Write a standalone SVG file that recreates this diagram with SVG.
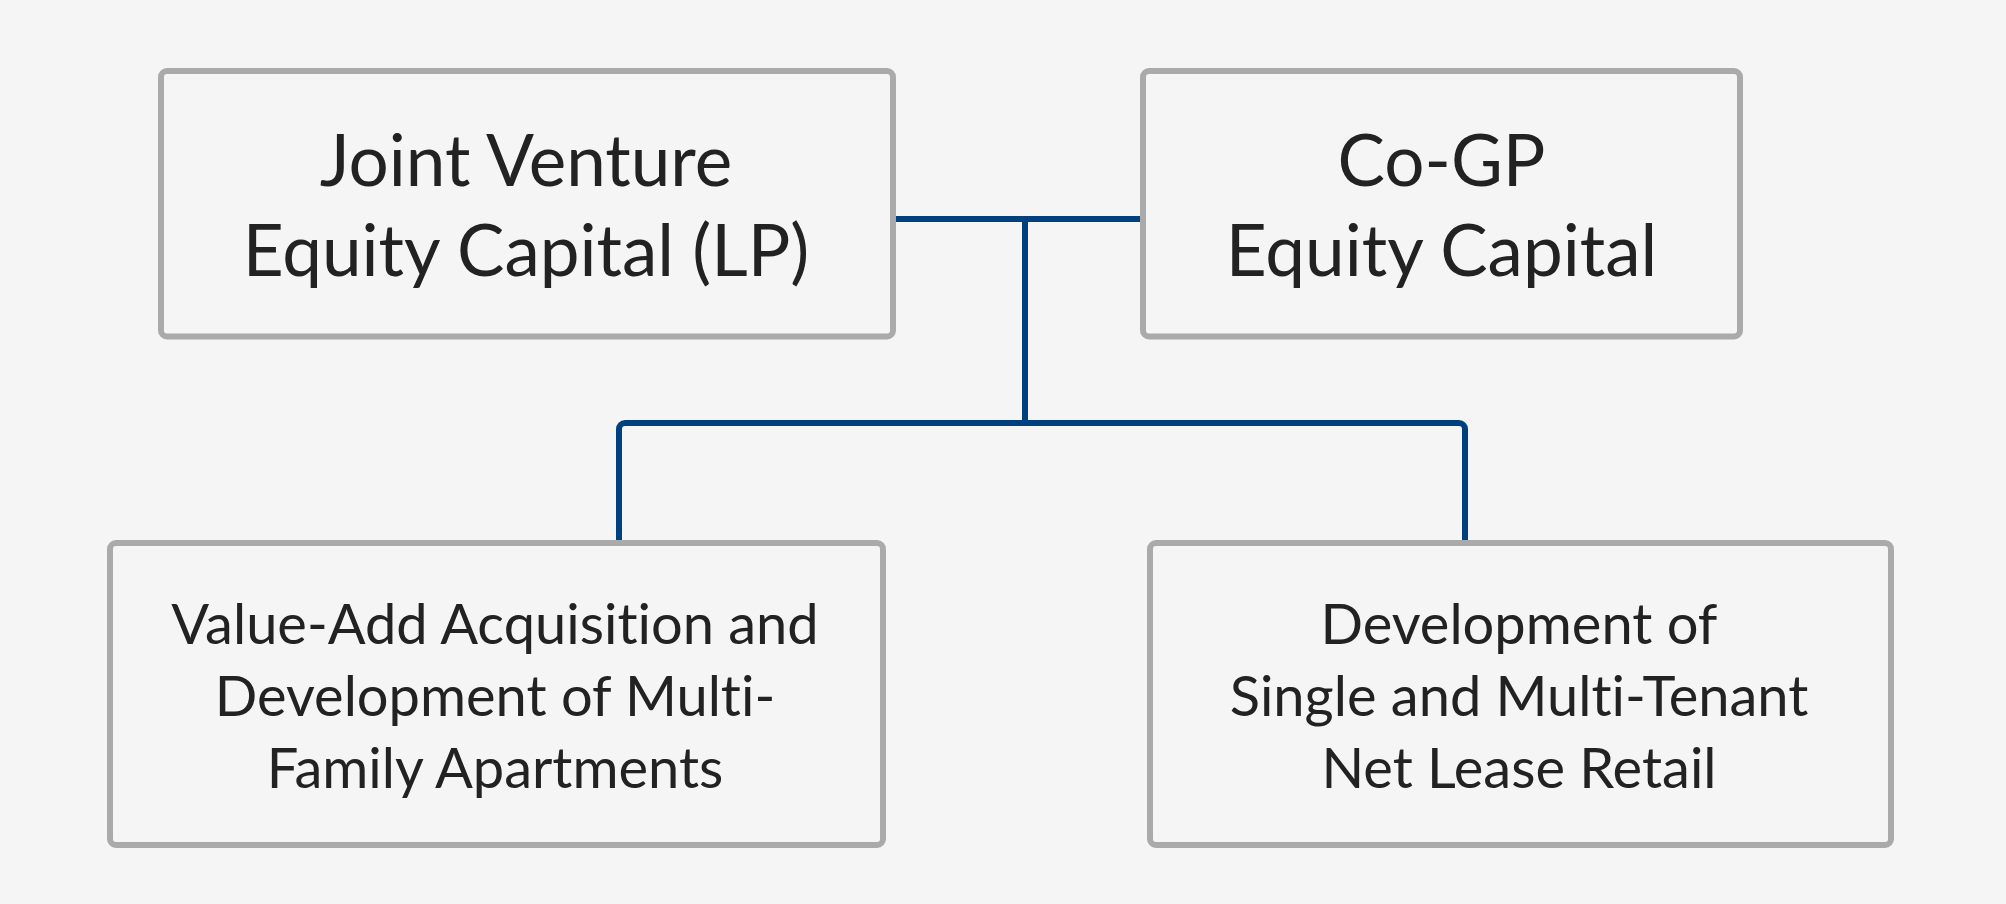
<svg xmlns="http://www.w3.org/2000/svg" width="2006" height="904" viewBox="0 0 2006 904">
  <style>
    .box { fill: #f5f5f5; stroke: #aaaaaa; stroke-width: 6; }
    .lbl { font-family: Lato, "Liberation Sans", sans-serif; fill: #222222; text-anchor: middle; font-variant-ligatures: none; }
    .big { font-size: 71px; }
    .small { font-size: 56px; }
    .conn { fill: none; stroke: #01407f; stroke-width: 6; }
  </style>
  <rect x="0" y="0" width="2006" height="904" fill="#f5f5f5"/>
  <g id="connectors">
    <path class="conn" d="M893 219 H1143"/>
    <path class="conn" d="M1025 219 V423"/>
    <path class="conn" d="M619 543 V429 A6 6 0 0 1 625 423 H1459 A6 6 0 0 1 1465 429 V543"/>
  </g>
  <g id="node-jv">
    <rect class="box" x="161" y="71" width="732" height="265.5" rx="6"/>
    <text class="lbl big" x="526" y="186">Joint Venture</text>
    <text class="lbl big" x="526" y="276">Equity Capital (LP)</text>
  </g>
  <g id="node-cogp">
    <rect class="box" x="1143" y="71" width="597" height="265.5" rx="6"/>
    <text class="lbl big" x="1441.5" y="186">Co-GP</text>
    <text class="lbl big" x="1441.5" y="276">Equity Capital</text>
  </g>
  <g id="node-multifamily">
    <rect class="box" x="110" y="543" width="773" height="302" rx="6"/>
    <text class="lbl small" x="495" y="644">Value-Add Acquisition and</text>
    <text class="lbl small" x="495" y="716">Development of Multi-</text>
    <text class="lbl small" x="495" y="788">Family Apartments</text>
  </g>
  <g id="node-retail">
    <rect class="box" x="1150" y="543" width="741" height="302" rx="6"/>
    <text class="lbl small" x="1519" y="644">Development of</text>
    <text class="lbl small" x="1519" y="716">Single and Multi-Tenant</text>
    <text class="lbl small" x="1519" y="788">Net Lease Retail</text>
  </g>
</svg>
